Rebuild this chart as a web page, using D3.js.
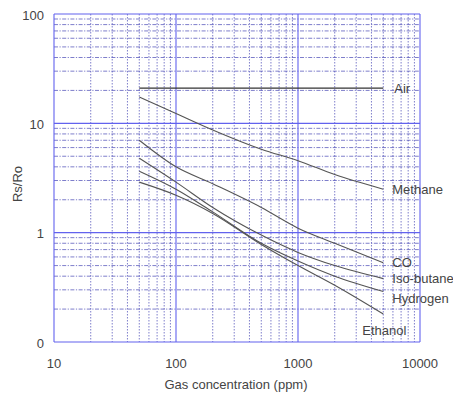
<!DOCTYPE html>
<html>
<head>
<meta charset="utf-8">
<script src="https://cdn.jsdelivr.net/npm/d3@7"></script>
<style>
  html, body { margin: 0; padding: 0; background: #fff; }
  svg { display: block; font-family: 'Liberation Sans', Arial, sans-serif; }
</style>
</head>
<body>
<svg id="chart" width="453" height="393"></svg>
<script>
// gas concentrations (ppm) where each curve was read
const ppm = [50, 100, 200, 500, 1000, 2000, 5000];

const gases = ['Methane', 'CO', 'Iso-butane', 'Hydrogen', 'Ethanol'];
const methane = [17.4, 12.3, 8.7, 5.8, 4.55, 3.4, 2.5];
const co = [7.0, 4.0, 2.8, 1.7, 1.1, 0.8, 0.53];
const isoButane = [4.8, 2.9, 1.7, 0.95, 0.66, 0.5, 0.38];
const hydrogen = [3.65, 2.5, 1.55, 0.8, 0.55, 0.4, 0.29];
const ethanol = [2.9, 2.2, 1.5, 0.78, 0.5, 0.33, 0.18];
const air = [21, 21, 21, 21, 21, 21, 21];

const xTicks = [10, 100, 1000, 10000];
const xTickLabels = ['10', '100', '1000', '10000'];
const yTicks = [0.1, 1, 10, 100];
const yTickLabels = ['0', '1', '10', '100'];

const series = [
  { name: 'Air', values: air, labelDx: 11, labelDy: 0 },
  { name: gases[0], values: methane, labelDx: 9, labelDy: 0 },
  { name: gases[1], values: co, labelDx: 9, labelDy: 0 },
  { name: gases[2], values: isoButane, labelDx: 9, labelDy: 0 },
  { name: gases[3], values: hydrogen, labelDx: 9, labelDy: 7 },
  { name: gases[4], values: ethanol, labelDx: -21, labelDy: 16 }
];

const plotLeft = 54, plotRight = 420, plotTop = 14, plotBottom = 342;
const svg = d3.select('#chart');

const x = d3.scaleLog().domain([10, 10000]).range([plotLeft, plotRight]);
const y = d3.scaleLog().domain([0.1, 100]).range([plotBottom, plotTop]);

// minor grid (2..9 of each decade)
const minorX = [], minorY = [];
[10, 100, 1000].forEach(d => { for (let k = 2; k <= 9; k++) minorX.push(d * k); });
[0.1, 1, 10].forEach(d => { for (let k = 2; k <= 9; k++) minorY.push(d * k); });

const grid = svg.append('g');
grid.selectAll('line.mx')
  .data(minorX)
  .enter()
  .append('line')
  .attr('class', 'mx')
  .attr('x1', d => x(d)).attr('x2', d => x(d))
  .attr('y1', plotTop).attr('y2', plotBottom)
  .attr('stroke', '#4646b4')
  .attr('stroke-width', 0.7)
  .attr('stroke-dasharray', '1.5,1.5');
grid.selectAll('line.my')
  .data(minorY)
  .enter()
  .append('line')
  .attr('class', 'my')
  .attr('x1', plotLeft).attr('x2', plotRight)
  .attr('y1', d => y(d)).attr('y2', d => y(d))
  .attr('stroke', '#4646b4')
  .attr('stroke-width', 0.7)
  .attr('stroke-dasharray', '4,1.5,1.2,1.5');

// major grid
grid.selectAll('line.gx')
  .data(xTicks)
  .enter()
  .append('line')
  .attr('class', 'gx')
  .attr('x1', d => x(d)).attr('x2', d => x(d))
  .attr('y1', plotTop).attr('y2', plotBottom)
  .attr('stroke', '#6262ee')
  .attr('stroke-width', 1.1);
grid.selectAll('line.gy')
  .data(yTicks)
  .enter()
  .append('line')
  .attr('class', 'gy')
  .attr('x1', plotLeft).attr('x2', plotRight)
  .attr('y1', d => y(d)).attr('y2', d => y(d))
  .attr('stroke', '#6262ee')
  .attr('stroke-width', 1.1);

// curves
const line = d3.line()
  .x((d, i) => x(ppm[i]))
  .y(d => y(d))
  .curve(d3.curveMonotoneX);

const curves = svg.append('g');
series.forEach(s => {
  curves.append('path')
    .attr('d', line(s.values))
    .attr('fill', 'none')
    .attr('stroke', s.name === 'Air' ? '#333' : '#555')
    .attr('stroke-width', 1.1);

  const last = s.values.length - 1;
  curves.append('text')
    .attr('x', x(ppm[last]) + s.labelDx)
    .attr('y', y(s.values[last]) + s.labelDy)
    .attr('dy', '0.35em')
    .attr('fill', '#444')
    .attr('font-size', 13)
    .text(s.name);
});

// tick labels
svg.append('g')
  .selectAll('text')
  .data(xTicks)
  .enter()
  .append('text')
  .attr('x', d => x(d))
  .attr('y', 368)
  .attr('text-anchor', 'middle')
  .attr('fill', '#444')
  .attr('font-size', 13)
  .text((d, i) => xTickLabels[i]);

svg.append('g')
  .selectAll('text')
  .data(yTicks)
  .enter()
  .append('text')
  .attr('x', 44)
  .attr('y', d => y(d) + 1)
  .attr('dy', '0.35em')
  .attr('text-anchor', 'end')
  .attr('fill', '#444')
  .attr('font-size', 13)
  .text((d, i) => yTickLabels[i]);

// axis titles
svg.append('text')
  .attr('x', 236)
  .attr('y', 389)
  .attr('text-anchor', 'middle')
  .attr('fill', '#444')
  .attr('font-size', 13)
  .text('Gas concentration (ppm)');

svg.append('text')
  .attr('transform', 'translate(22,184) rotate(-90)')
  .attr('text-anchor', 'middle')
  .attr('fill', '#444')
  .attr('font-size', 13)
  .text('Rs/Ro');
</script>
</body>
</html>
